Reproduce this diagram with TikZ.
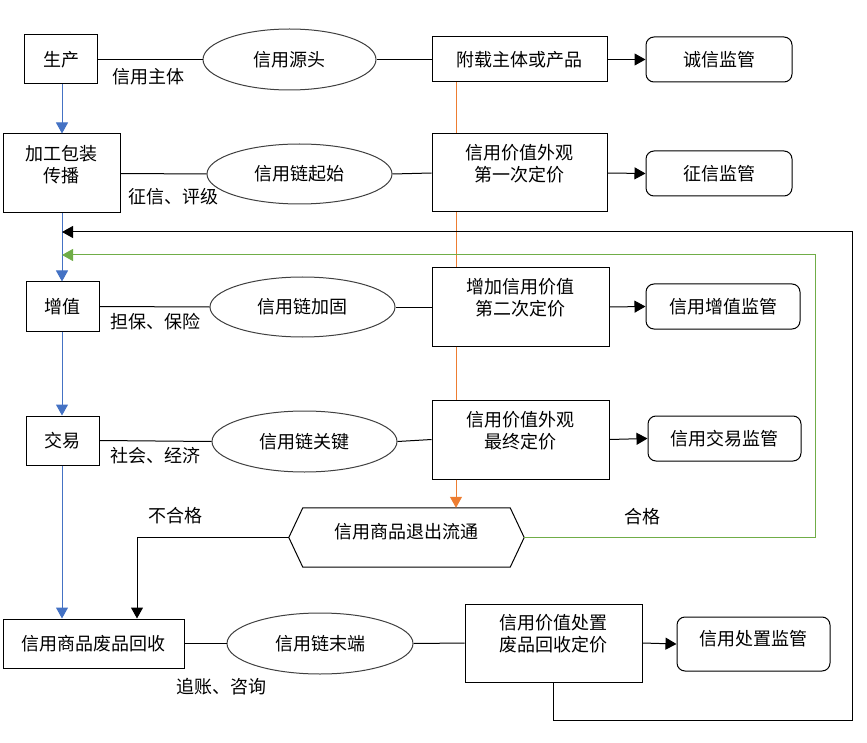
\documentclass[tikz,border=0pt]{standalone}
\usepackage{fontspec}
\newfontfamily\cjk{Noto Sans CJK SC}
\usetikzlibrary{arrows.meta,calc,shapes.geometric}
\definecolor{cblue}{RGB}{68,114,196}
\definecolor{corange}{RGB}{237,125,49}
\definecolor{cgreen}{RGB}{112,173,71}
\begin{document}
\begin{tikzpicture}[x=1pt,y=-1pt,
  every node/.style={font=\cjk\fontsize{18}{22}\selectfont, inner sep=0pt},
  box/.style={draw, line width=1pt, fill=white},
  rbox/.style={draw, line width=1pt, rounded corners=8pt, fill=white},
  ell/.style={draw=black!75, line width=1pt, ellipse, fill=white},
  conn/.style={line width=1pt, draw=black},
  arr/.style={-{Triangle[length=11pt,width=12pt]}},
  blueline/.style={line width=1pt, draw=cblue},
  orangeline/.style={line width=1pt, draw=corange},
  greenline/.style={line width=1pt, draw=cgreen},
  txt/.style={align=center}
]
\useasboundingbox (0,0) rectangle (867,743);

% left column
\node[box, minimum width=73pt, minimum height=49pt] (p1) at (61,59.5) {生产};
\node[box, minimum width=117pt, minimum height=79pt] (p2) at (61.5,173.5) {};
\node[txt, yshift=9pt] (tp2) at (p2) {加工包装\\传播};
\node[box, minimum width=73pt, minimum height=49pt] (p3) at (62.5,306.5) {增值};
\node[box, minimum width=73pt, minimum height=49pt] (p4) at (62.5,440.5) {交易};
\node[box, minimum width=181pt, minimum height=49pt] (p5) at (93.5,643.5) {信用商品废品回收};

% ellipses
\node[ell, minimum width=173pt, minimum height=61pt] (e1) at (289.5,59.5) {信用源头};
\node[ell, minimum width=185pt, minimum height=60pt] (e2) at (299.5,174) {信用链起始};
\node[ell, minimum width=185pt, minimum height=60pt] (e3) at (302.5,307) {信用链加固};
\node[ell, minimum width=185pt, minimum height=61pt] (e4) at (304.5,441.5) {信用链关键};
\node[ell, minimum width=186pt, minimum height=61pt] (e5) at (320,643.5) {信用链末端};

% middle column
\node[box, minimum width=175pt, minimum height=45pt] (m1) at (519.5,59.5) {附载主体或产品};
\node[box, minimum width=175pt, minimum height=78pt] (m2) at (519.5,173) {};
\node[txt, yshift=9pt] (tm2) at (m2) {信用价值外观\\第一次定价};
\node[box, minimum width=177pt, minimum height=78pt] (m3) at (520.5,307) {};
\node[txt, yshift=9pt] (tm3) at (m3) {增加信用价值\\第二次定价};
\node[box, minimum width=177pt, minimum height=79pt] (m4) at (520.5,439.5) {};
\node[txt, yshift=9pt] (tm4) at (m4) {信用价值外观\\最终定价};
\node[minimum width=235pt, minimum height=59pt] (hx) at (406.5,537.5) {};
\draw[line width=1pt] (hx.west) -- ($(hx.north west)+(14,0)$) -- ($(hx.north east)+(-14,0)$) -- (hx.east)
  -- ($(hx.south east)+(-14,0)$) -- ($(hx.south west)+(14,0)$) -- cycle;
\node[yshift=6pt] (thx) at (hx) {信用商品退出流通};
\node[box, minimum width=177pt, minimum height=78pt] (m6) at (553.5,643) {};
\node[txt, yshift=9pt] (tm6) at (m6) {信用价值处置\\废品回收定价};

% right column
\node[rbox, minimum width=146pt, minimum height=45pt] (r1) at (719,59.5) {诚信监管};
\node[rbox, minimum width=146pt, minimum height=45pt] (r2) at (719,173.5) {征信监管};
\node[rbox, minimum width=154pt, minimum height=45pt] (r3) at (723,306.5) {信用增值监管};
\node[rbox, minimum width=153pt, minimum height=45pt] (r4) at (724.5,438.5) {信用交易监管};
\node[rbox, minimum width=153pt, minimum height=54pt] (r5) at (753.5,644) {};
\node[yshift=5pt] (tr5) at (r5) {信用处置监管};

% labels
\node (l1) at (148,77) {信用主体};
\node (l2) at (173,197) {征信、评级};
\node (l3) at (155,322) {担保、保险};
\node (l4) at (155,456) {社会、经济};
\node (l5) at (221,687) {追账、咨询};
\node (l6) at (175,516) {不合格};
\node (l7) at (642,517) {合格};

% horizontal connectors
\draw[conn] (p1.east) -- (e1.west);
\draw[conn] (e1.east) -- (m1.west);
\draw[conn,arr] (m1.east) -- (r1.west);
\draw[conn] (p2.east) -- (e2.west);
\draw[conn] (e2.east) -- (m2.west);
\draw[conn,arr] (m2.east) -- (r2.west);
\draw[conn] (p3.east) -- (e3.west);
\draw[conn] (e3.east) -- (m3.west);
\draw[conn,arr] (m3.east) -- (r3.west);
\draw[conn] (p4.east) -- (e4.west);
\draw[conn] (e4.east) -- (m4.west);
\draw[conn,arr] (m4.east) -- (r4.west);
\draw[conn] (p5.east) -- (e5.west);
\draw[conn] (e5.east) -- (m6.west);
\draw[conn,arr] (m6.east) -- (r5.west);

% blue chain
\draw[blueline,arr] (62,0 |- p1.south) -- (62,0 |- p2.north);
\draw[blueline,arr] (62,0 |- p2.south) -- (62,0 |- p3.north);
\draw[blueline,arr] (62,0 |- p3.south) -- (62,0 |- p4.north);
\draw[blueline,arr] (62,0 |- p4.south) -- (62,0 |- p5.north);

% orange chain
\draw[orangeline] (456,0 |- m1.south) -- (456,0 |- m2.north);
\draw[orangeline] (456,0 |- m2.south) -- (456,0 |- m3.north);
\draw[orangeline] (456,0 |- m3.south) -- (456,0 |- m4.north);
\draw[orangeline,arr] (456,0 |- m4.south) -- (456,0 |- hx.north);

% feedback
\coordinate (g1) at (62,255);
\coordinate (k1) at (62,232);
\draw[greenline,arr] (hx.east) -| (815,255) -- (g1);
\draw[conn,arr] (m6.south) |- (852,720) |- (k1);
\draw[conn,arr] (hx.west) -| (137,0 |- p5.north);
\end{tikzpicture}
\end{document}
